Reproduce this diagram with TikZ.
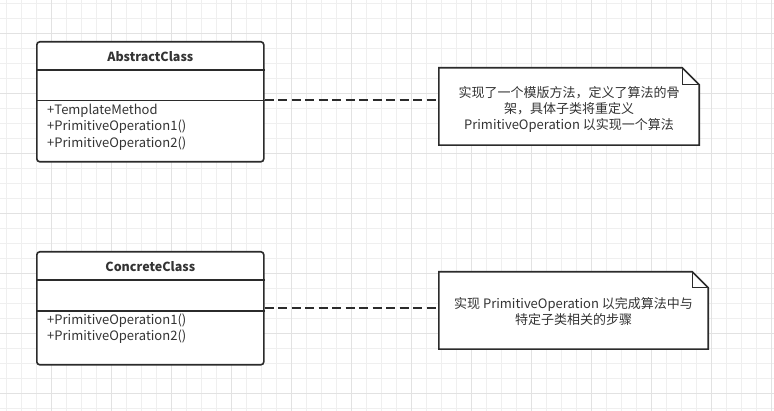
\documentclass[tikz,border=0pt]{standalone}
\usepackage{fontspec}
\setmainfont{Noto Sans CJK SC}
\usetikzlibrary{calc}
\definecolor{ink}{HTML}{2B2B2B}
\definecolor{txt}{HTML}{333333}
\definecolor{gridminor}{HTML}{EFEFEF}
\definecolor{gridmajor}{HTML}{E2E2E2}
\tikzset{
  classbox/.style={draw=ink, line width=1.6pt, fill=white, rounded corners=3pt, inner sep=0pt, anchor=north west},
  hdr/.style={font=\bfseries\fontsize{12.5}{14}\selectfont, text=txt, inner sep=0pt},
  member/.style={font=\fontsize{13}{15}\selectfont, text=txt, inner sep=0pt, anchor=west},
  notebox/.style={inner sep=0pt},
  noteline/.style={draw=ink, line width=1.6pt, line join=miter},
  notetext/.style={font=\fontsize{13}{16}\selectfont, text=txt, align=center, inner sep=0pt},
  conn/.style={draw=ink, line width=1.8pt, dash pattern=on 9pt off 4.5pt},
  sep/.style={draw=ink, line width=1.6pt}
}
\begin{document}
\begin{tikzpicture}[x=1pt,y=-1pt]
\useasboundingbox (0,0) rectangle (774,411);
\fill[white] (0,0) rectangle (774,411);
% grid
\foreach \x in {6,21,...,771} \draw[gridminor, line width=0.9pt] (\x,0) -- (\x,411);
\foreach \y in {3,18,...,408} \draw[gridminor, line width=0.9pt] (0,\y) -- (774,\y);
\foreach \x in {51,111,...,771} \draw[gridmajor, line width=0.9pt] (\x,0) -- (\x,411);
\foreach \y in {33,93,...,393} \draw[gridmajor, line width=0.9pt] (0,\y) -- (774,\y);

% connector anchor heights
\coordinate (c1) at (0,100);
\coordinate (c2) at (0,308);

% AbstractClass
\node[classbox, minimum width=227pt, minimum height=120pt] (abs) at (36,41) {};
\draw[sep] ($(abs.north west)+(0,29)$) -- ($(abs.north east)+(0,29)$);
\draw[sep] ($(abs.north west)+(0,59.5)$) -- ($(abs.north east)+(0,59.5)$);
\node[hdr] (absname) at ($(abs.north)+(0,16)$) {AbstractClass};
\node[member] (absm1) at (47,110.5) {+TemplateMethod};
\node[member] (absm2) at (47,127) {+PrimitiveOperation1()};
\node[member] (absm3) at (47,143.5) {+PrimitiveOperation2()};

% ConcreteClass
\node[classbox, minimum width=227pt, minimum height=113pt] (con) at (36,251) {};
\draw[sep] ($(con.north west)+(0,29)$) -- ($(con.north east)+(0,29)$);
\draw[sep] ($(con.north west)+(0,60)$) -- ($(con.north east)+(0,60)$);
\node[hdr] (conname) at ($(con.north)+(0,16)$) {ConcreteClass};
\node[member] (conm1) at (47,320.5) {+PrimitiveOperation1()};
\node[member] (conm2) at (47,337) {+PrimitiveOperation2()};

% Note 1
\node[notebox, minimum width=260pt, minimum height=77pt] (note1) at (569,106.5) {};
\fill[white] (note1.north west) -- ($(note1.north east)+(-17,0)$) -- ($(note1.north east)+(0,17)$) -- (note1.south east) -- (note1.south west) -- cycle;
\draw[noteline] (note1.north west) -- ($(note1.north east)+(-17,0)$) -- ($(note1.north east)+(0,17)$) -- (note1.south east) -- (note1.south west) -- cycle;
\draw[noteline, line width=1.2pt] ($(note1.north east)+(-17,0)$) -- ($(note1.north east)+(-17,17)$) -- ($(note1.north east)+(0,17)$);
\node[notetext] (note1text) at (569,109) {实现了一个模版方法，定义了算法的骨\\架，具体子类将重定义\\PrimitiveOperation 以实现一个算法};

% Note 2
\node[notebox, minimum width=269pt, minimum height=77pt] (note2) at (573.5,310.5) {};
\fill[white] (note2.north west) -- ($(note2.north east)+(-16,0)$) -- ($(note2.north east)+(0,16)$) -- (note2.south east) -- (note2.south west) -- cycle;
\draw[noteline] (note2.north west) -- ($(note2.north east)+(-16,0)$) -- ($(note2.north east)+(0,16)$) -- (note2.south east) -- (note2.south west) -- cycle;
\draw[noteline, line width=1.2pt] ($(note2.north east)+(-16,0)$) -- ($(note2.north east)+(-16,16)$) -- ($(note2.north east)+(0,16)$);
\node[notetext] (note2text) at (573.5,312) {实现 PrimitiveOperation 以完成算法中与\\特定子类相关的步骤};

% connectors
\draw[conn] (abs.east |- c1) -- (note1.west |- c1);
\draw[conn] (con.east |- c2) -- (note2.west |- c2);
\end{tikzpicture}
\end{document}
